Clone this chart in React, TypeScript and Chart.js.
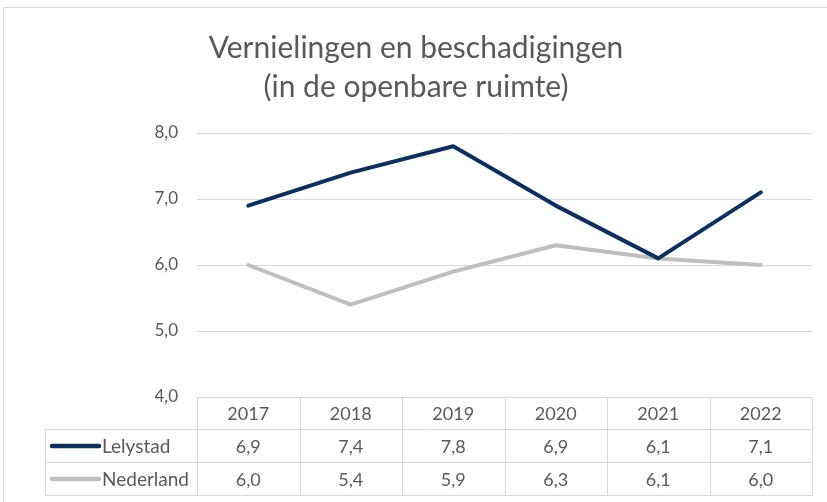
import React, { useEffect, useRef } from "react";
import { Chart, registerables } from "chart.js";

Chart.register(...registerables);

const years = ["2017", "2018", "2019", "2020", "2021", "2022"];
const lelystad = [6.9, 7.4, 7.8, 6.9, 6.1, 7.1];
const nederland = [6.0, 5.4, 5.9, 6.3, 6.1, 6.0];
const seriesNames = ["Lelystad", "Nederland"];
const titleLines = ["Vernielingen en beschadigingen", "(in de openbare ruimte)"];

const NAVY = "#0c2f5c";
const GRAY = "#bfbfbf";
const GRID = "#d9d9d9";
const TEXT = "#595959";
const FONT = "Lato, 'Noto Sans', sans-serif";

const fmt = (v: number) => v.toFixed(1).replace(".", ",");

const framePlugin = {
  id: "frame",
  beforeDraw(chart: any) {
    const ctx = chart.ctx;
    ctx.save();
    ctx.fillStyle = "#ffffff";
    ctx.fillRect(0, 0, chart.width, chart.height);
    ctx.strokeStyle = GRID;
    ctx.lineWidth = 1;
    ctx.strokeRect(3.5, 7.5, chart.width + 10, chart.height + 10);
    ctx.restore();
  },
};

const tablePlugin = {
  id: "dataTable",
  afterDraw(chart: any) {
    const ctx = chart.ctx;
    const xs = chart.scales.x;
    const area = chart.chartArea;
    const n = years.length;
    const colW = (area.right - area.left) / n;
    const rowH = 33;
    const top = Math.round(area.bottom) + 0.5;
    const r1 = top + 32;
    const r2 = r1 + rowH;
    const r3 = r2 + rowH;
    const labelLeft = 45.5;
    ctx.save();
    ctx.strokeStyle = GRID;
    ctx.lineWidth = 1;
    ctx.beginPath();
    ctx.moveTo(area.left, top);
    ctx.lineTo(area.right, top);
    [r1, r2, r3].forEach((y) => {
      ctx.moveTo(labelLeft, y);
      ctx.lineTo(area.right, y);
    });
    for (let i = 0; i <= n; i++) {
      const x = Math.round(area.left + i * colW) + 0.5;
      ctx.moveTo(x, top);
      ctx.lineTo(x, r3);
    }
    ctx.moveTo(labelLeft, r1);
    ctx.lineTo(labelLeft, r3);
    ctx.stroke();

    ctx.fillStyle = TEXT;
    ctx.font = `18px ${FONT}`;
    ctx.textAlign = "center";
    ctx.textBaseline = "middle";
    const rows = [lelystad, nederland];
    years.forEach((y, i) => {
      const cx = xs.getPixelForValue(i);
      ctx.fillText(y, cx, (top + r1) / 2 + 1);
      rows.forEach((vals, k) => {
        const yy = k === 0 ? (r1 + r2) / 2 : (r2 + r3) / 2;
        ctx.fillText(fmt(vals[i]), cx, yy + 1);
      });
    });
    const colors = [NAVY, GRAY];
    ctx.font = `19px ${FONT}`;
    seriesNames.forEach((name, k) => {
      const yy = k === 0 ? (r1 + r2) / 2 : (r2 + r3) / 2;
      ctx.strokeStyle = colors[k];
      ctx.lineWidth = 4.5;
      ctx.lineCap = "round";
      ctx.beginPath();
      ctx.moveTo(52, yy);
      ctx.lineTo(99, yy);
      ctx.stroke();
      ctx.fillStyle = TEXT;
      ctx.textAlign = "left";
      ctx.fillText(name, 102, yy + 1);
    });
    ctx.restore();
  },
};

export default function App() {
  const ref = useRef<HTMLCanvasElement>(null);
  useEffect(() => {
    document.body.style.margin = "0";
    const canvas = ref.current!;
    const chart = new Chart(canvas, {
      type: "line",
      data: {
        labels: years,
        datasets: [
          {
            label: seriesNames[0],
            data: lelystad,
            borderColor: NAVY,
            borderWidth: 4,
            pointRadius: 0,
            tension: 0,
            borderCapStyle: "round",
            borderJoinStyle: "round",
          },
          {
            label: seriesNames[1],
            data: nederland,
            borderColor: GRAY,
            borderWidth: 4,
            pointRadius: 0,
            tension: 0,
            borderCapStyle: "round",
            borderJoinStyle: "round",
          },
        ],
      },
      options: {
        animation: false,
        responsive: false,
        devicePixelRatio: 1,
        layout: { padding: { top: 0, left: 20, right: 15, bottom: 105 } },
        plugins: {
          legend: { display: false },
          tooltip: { enabled: false },
          title: {
            display: true,
            text: titleLines,
            color: TEXT,
            font: { family: FONT, size: 30, weight: "normal", lineHeight: 1.3 },
            padding: { top: 28.5, bottom: 26.5 },
          },
        },
        scales: {
          x: {
            type: "category",
            offset: true,
            display: false,
            grid: { display: false },
          },
          y: {
            min: 4,
            max: 8,
            ticks: {
              stepSize: 1,
              color: TEXT,
              padding: 19,
              font: { family: FONT, size: 17 },
              callback: (v: any) => fmt(Number(v)),
            },
            grid: { color: GRID, lineWidth: 1, drawTicks: false },
            border: { display: false },
            afterFit: (s: any) => {
              s.width = 177;
            },
          },
        },
      },
      plugins: [framePlugin, tablePlugin],
    });
    return () => chart.destroy();
  }, []);
  return <canvas ref={ref} width={827} height={502} style={{ display: "block" }} />;
}
